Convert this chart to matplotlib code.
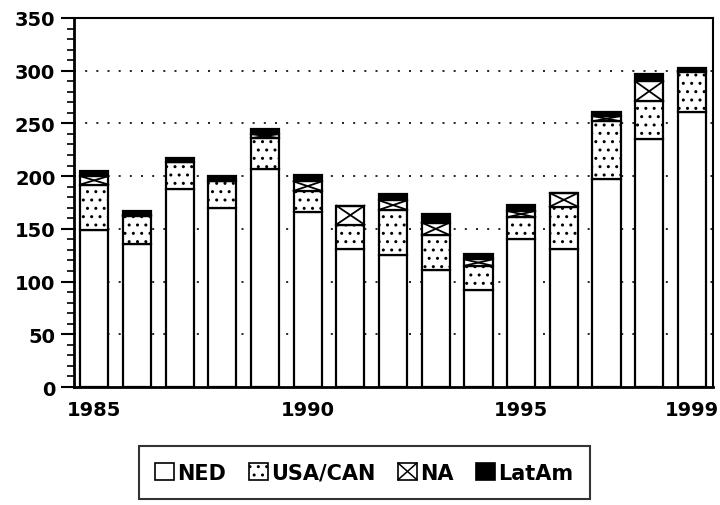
import numpy as np
import matplotlib as mpl
mpl.use('Agg')
from matplotlib import pyplot as plt
from matplotlib.patches import Patch, Rectangle
from matplotlib.lines import Line2D
from matplotlib.legend_handler import HandlerBase
from matplotlib.ticker import MultipleLocator

#yearly totals split by origin
years = np.arange(1985, 2000)
ned = np.array([149, 136, 188, 170, 207, 166, 131, 125, 111, 92, 140, 131, 197, 235, 261])
usa_can = np.array([43, 26, 25, 25, 29, 20, 23, 43, 33, 23, 21, 40, 55, 36, 38])
na = np.array([8, 1, 0, 0, 4, 9, 18, 9, 12, 6, 6, 13, 5, 19, 1])
latam = np.array([5, 4, 4, 5, 5, 6, 0, 6, 8, 5, 6, 0, 4, 7, 3])
labels = ['NED', 'USA/CAN', 'NA', 'LatAm']
year_ticks = [1985, 1990, 1995, 1999]

plt.rcParams['font.family'] = 'DejaVu Sans'
plt.rcParams['font.weight'] = 'bold'
plt.rcParams['hatch.linewidth'] = 1.0


class CrossBoxHandler(HandlerBase):
    #legend key: white box with one diagonal cross
    def create_artists(self, legend, orig_handle, xdescent, ydescent,
                       width, height, fontsize, trans):
        x0, y0 = -xdescent, -ydescent
        box = Rectangle((x0, y0), width, height, facecolor='white',
                        edgecolor='black', lw=1.2, transform=trans)
        l1 = Line2D([x0, x0 + width], [y0, y0 + height], color='black',
                    lw=1.1, transform=trans)
        l2 = Line2D([x0, x0 + width], [y0 + height, y0], color='black',
                    lw=1.1, transform=trans)
        return [box, l1, l2]


fig = plt.figure(figsize=(7.2, 5.06), dpi=100)
ax = fig.add_axes([0.103, 0.2332, 0.887, 0.7293])

w = 0.66
lw = 1.6
b1 = ned
b2 = ned + usa_can
b3 = b2 + na

ax.bar(years, ned, w, color='white', edgecolor='black', linewidth=lw, zorder=3)
ax.bar(years, usa_can, w, bottom=b1, color='white', edgecolor='black',
       hatch='..', linewidth=lw, zorder=3)
ax.bar(years, na, w, bottom=b2, color='white', edgecolor='black',
       linewidth=lw, zorder=3)
ax.bar(years, latam, w, bottom=b3, color='black', edgecolor='black',
       linewidth=lw, zorder=3)

#big X across each NA box
for x0, lo, h in zip(years, b2, na):
    if h <= 0:
        continue
    xl, xr = x0 - w/2, x0 + w/2
    ax.plot([xl, xr], [lo, lo + h], color='black', lw=1.3, zorder=4)
    ax.plot([xl, xr], [lo + h, lo], color='black', lw=1.3, zorder=4)

ax.set_xlim(1984.53, 1999.49)
ax.set_ylim(0, 350)
ax.set_xticks(year_ticks)
ax.yaxis.set_major_locator(MultipleLocator(50))
ax.yaxis.set_minor_locator(MultipleLocator(10))
ax.tick_params(axis='x', length=0, pad=9, labelsize=14)
ax.tick_params(axis='y', which='major', length=9.5, width=1.5, labelsize=14, pad=4)
ax.tick_params(axis='y', which='minor', length=5, width=1.2)

for yv in range(50, 301, 50):
    ax.axhline(yv, color='black', lw=1.2, ls=(0, (1.2, 5.5)), zorder=1)

for s in ['left', 'bottom']:
    ax.spines[s].set_linewidth(2.0)
for s in ['top', 'right']:
    ax.spines[s].set_linewidth(1.5)

na_key = Patch(facecolor='white', edgecolor='black', lw=1.2)
handles = [Patch(facecolor='white', edgecolor='black', lw=1.2),
           Patch(facecolor='white', edgecolor='black', hatch='..', lw=1.2),
           na_key,
           Patch(facecolor='black', edgecolor='black', lw=1.2)]
leg = fig.legend(handles, labels, loc='center', bbox_to_anchor=(0.506, 0.064),
                 ncol=4, fontsize=15, frameon=True, fancybox=False,
                 handlelength=0.9, handleheight=0.85, handletextpad=0.15,
                 columnspacing=1.1, borderpad=0.8, borderaxespad=0,
                 handler_map={na_key: CrossBoxHandler()})
leg.get_frame().set_edgecolor('black')
leg.get_frame().set_linewidth(1.5)

plt.savefig('out.png', dpi=100)
plt.close('all')
